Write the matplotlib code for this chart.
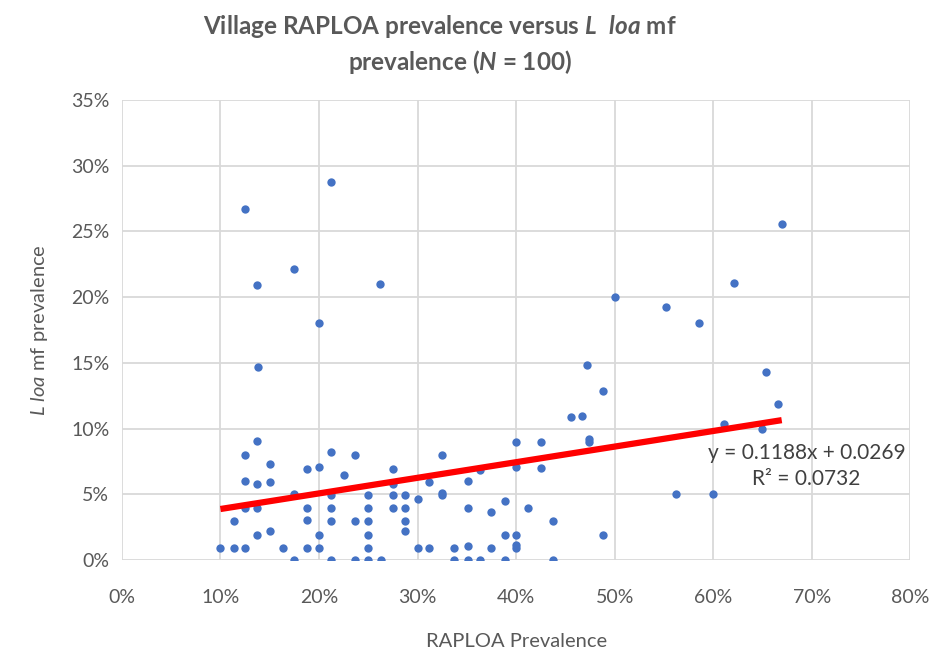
import matplotlib
matplotlib.use("Agg")
import matplotlib.pyplot as plt
from matplotlib.ticker import PercentFormatter

plt.rcParams["font.family"] = ["Lato", "DejaVu Sans"]
plt.rcParams["mathtext.fontset"] = "custom"
plt.rcParams["mathtext.rm"] = "Lato"
plt.rcParams["mathtext.it"] = "Lato:italic"
plt.rcParams["mathtext.bf"] = "Lato:bold"
plt.rcParams["mathtext.bfit"] = "Lato:italic:bold"

# RAPLOA prevalence (%) and L loa mf prevalence (%)
raploa = [
    10.0, 11.35, 11.35, 12.5, 12.5, 12.5, 12.5, 12.5,
    13.7, 13.8, 13.7, 13.7, 13.7, 13.7, 15.0, 15.0, 15.0, 16.3,
    17.46, 17.46, 17.46, 18.75, 18.75, 18.75, 18.75,
    20.0, 20.0, 20.0, 20.0, 21.2, 21.2, 21.2, 21.2, 21.2, 21.2,
    22.54, 23.7, 23.7, 23.7, 25.0, 25.0, 25.0, 25.0, 25.0, 25.0,
    26.2, 26.3, 27.5, 27.5, 27.5, 27.5, 28.75, 28.75, 28.75, 28.75,
    30.0, 30.0, 31.2, 31.2, 32.5, 32.5, 32.5, 33.73, 33.73,
    35.1, 35.1, 35.1, 35.1, 36.3, 36.3, 37.47, 37.47,
    38.82, 38.82, 38.82, 40.0, 40.0, 40.0, 40.0, 40.0, 41.2,
    42.55, 42.55, 43.74, 43.74, 45.6, 46.7, 47.17, 47.4, 47.4,
    48.8, 48.85, 50.0, 55.25, 56.17, 58.55, 59.94, 61.05, 62.12,
    64.96, 65.39, 66.6, 66.94,
]
mf = [
    0.9, 2.96, 0.9, 26.74, 8.0, 6.02, 3.96, 0.9,
    20.93, 14.67, 9.07, 5.76, 3.96, 1.92, 7.3, 5.94, 2.18, 0.94,
    22.17, 5.0, 0.0, 6.96, 3.96, 3.07, 0.9,
    18.0, 7.04, 1.92, 0.9, 28.79, 8.2, 4.92, 3.96, 2.96, 0.0,
    6.45, 8.0, 2.96, 0.0, 4.92, 3.96, 2.96, 1.92, 0.9, 0.0,
    21.0, 0.0, 6.91, 5.76, 4.92, 3.96, 4.92, 3.96, 2.96, 2.18,
    4.67, 0.9, 5.94, 0.9, 8.0, 5.1, 4.92, 0.91, 0.0,
    6.0, 3.98, 1.09, 0.0, 6.88, 0.0, 3.65, 0.91,
    4.47, 1.93, 0.0, 8.98, 7.08, 1.93, 1.12, 0.91, 3.98,
    8.98, 7.0, 2.97, 0.0, 10.88, 10.96, 14.82, 9.2, 9.0,
    12.85, 1.9, 20.0, 19.27, 5.05, 18.03, 5.0, 10.33, 21.06,
    10.0, 14.32, 11.87, 25.56,
]

# linear trendline shown on the chart
slope = 0.1188
intercept = 0.0269
r2 = 0.0732

x_ticks = [0, 10, 20, 30, 40, 50, 60, 70, 80]
y_ticks = [0, 5, 10, 15, 20, 25, 30, 35]

gris = "#595959"

fig = plt.figure(figsize=(9.3, 6.5), dpi=100)
ax = fig.add_axes([0.131, 0.1385, 0.848, 0.7075])

ax.scatter(raploa, mf, s=36, color="#4472C4", zorder=3, linewidths=0)

x0 = min(raploa)
x1 = max(raploa)
ax.plot(
    [x0, x1],
    [(slope * x0 / 100 + intercept) * 100, (slope * x1 / 100 + intercept) * 100],
    color="#FF0000",
    linewidth=4.5,
    solid_capstyle="butt",
    zorder=4
)

ax.set_xlim(0, 80)
ax.set_ylim(0, 35)
ax.set_xticks(x_ticks)
ax.set_yticks(y_ticks)
ax.xaxis.set_major_formatter(PercentFormatter(decimals=0))
ax.yaxis.set_major_formatter(PercentFormatter(decimals=0))
ax.tick_params(axis="both", length=0, labelsize=14, labelcolor=gris)
ax.tick_params(axis="x", pad=21)
ax.tick_params(axis="y", pad=9)

ax.grid(True, color="#D9D9D9", linewidth=1.3, zorder=0)
ax.set_axisbelow(True)
for sp in ax.spines.values():
    sp.set_visible(False)

ax.set_xlabel("RAPLOA Prevalence", fontsize=14.5, color=gris, labelpad=19)
ax.set_ylabel(r"$\mathit{L\ loa}$ mf prevalence", fontsize=14.5, color=gris, labelpad=15)

ax.text(
    0.868, 0.204,
    f"y = {slope:.4f}x + {intercept:.4f}\nR² = {r2:.4f}",
    transform=ax.transAxes,
    ha="center",
    va="center",
    fontsize=15,
    color="#404040",
    linespacing=1.35
)

fig.text(
    440 / 930, 1 - 27 / 650,
    r"Village RAPLOA prevalence versus $\mathbfit{L\ \ loa}$ mf",
    ha="center", va="center", fontsize=17.5, fontweight="bold", color=gris
)
fig.text(
    460 / 930, 1 - 62 / 650,
    r"prevalence ($\mathbfit{N}$ = 100)",
    ha="center", va="center", fontsize=17.5, fontweight="bold", color=gris
)

fig.savefig("out.png", dpi=100, facecolor="white")
